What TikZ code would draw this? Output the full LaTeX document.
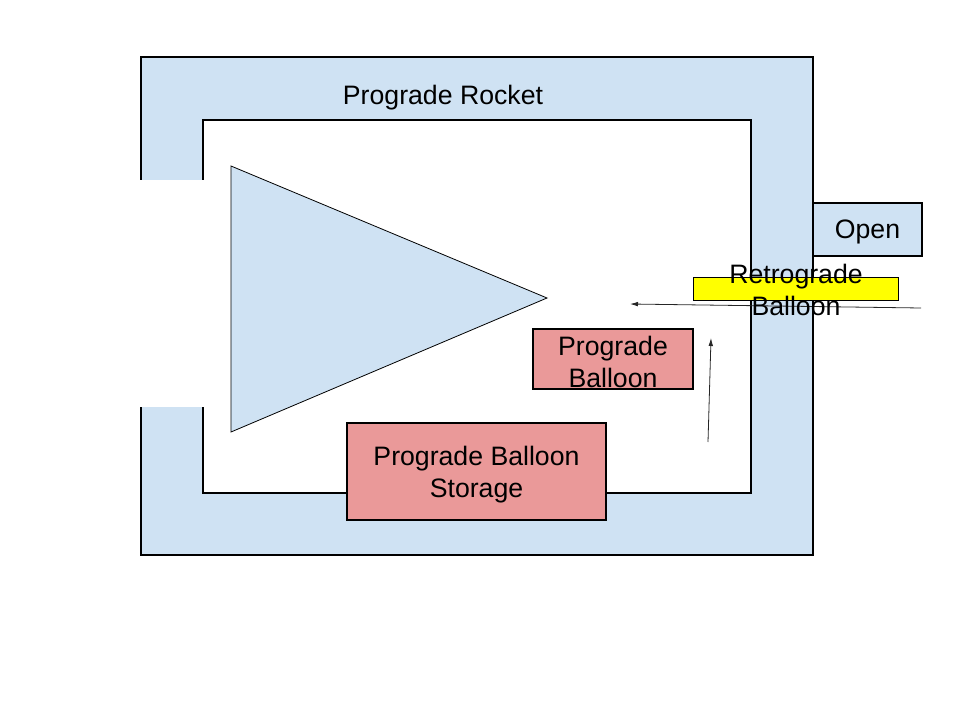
\documentclass[tikz,border=0pt]{standalone}
\usepackage{fontspec}
\setmainfont{Liberation Sans}
\usepackage{xcolor}
\usetikzlibrary{arrows.meta}

\definecolor{rocketblue}{HTML}{CFE2F3}
\definecolor{balloonred}{HTML}{EA9999}
\definecolor{retroyellow}{HTML}{FFFF00}

\begin{document}
\begin{tikzpicture}[x=0.75pt,y=-0.75pt,
    txt/.style={font=\fontsize{20}{24}\selectfont, align=center, inner sep=0pt},
    box/.style={draw, line width=0.8pt, inner sep=0pt},
    intxt/.style={label={[txt, yshift=-2.2pt]center:{#1}}},
    flow/.style={-{Latex[length=6pt,width=3.5pt]}, line width=0.6pt, black!85}]

    \useasboundingbox (0,0) rectangle (960,720);

    % Корпус ракеты: внешний и внутренний контур
    \coordinate (A) at (141,180);
    \coordinate (B) at (141,57);
    \coordinate (C) at (813,57);
    \coordinate (D) at (813,555);
    \coordinate (E) at (141,555);
    \coordinate (F) at (141,407);
    \coordinate (G) at (203,407);
    \coordinate (H) at (203,493);
    \coordinate (K) at (751,493);
    \coordinate (L) at (751,120);
    \coordinate (M) at (203,120);
    \coordinate (N) at (203,180);
    \fill[rocketblue] (A) -- (B) -- (C) -- (D) -- (E) -- (F) -- (G) -- (H) -- (K) -- (L) -- (M) -- (N) -- cycle;
    \draw[line width=0.8pt] (A) -- (B) -- (C) -- (D) -- (E) -- (F);
    \draw[line width=0.8pt] (G) -- (H) -- (K) -- (L) -- (M) -- (N);
    \node[txt] (rocket) at (443,97.5) {Prograde Rocket};

    % Сопло (треугольник)
    \coordinate (T1) at (231,166);
    \coordinate (T2) at (231,432);
    \coordinate (T3) at (547,298);
    \draw[fill=rocketblue, line width=0.6pt] (T1) -- (T3) -- (T2) -- cycle;

    % Люк
    \node[box, fill=rocketblue, minimum width=81.75pt, minimum height=39.75pt, intxt=Open] (open) at (867.5,229.5) {};

    % Стрелки
    \coordinate (in) at (921,308);
    \coordinate (inend) at (630,304);
    \draw[flow] (in) -- (inend);
    \coordinate (up) at (708,442);
    \coordinate (upend) at (711,338);
    \draw[flow] (up) -- (upend);

    % Ретроградный баллон
    \node[draw, fill=retroyellow, line width=0.6pt, minimum width=153.75pt, minimum height=17.25pt, inner sep=0pt] (retrobox) at (795.5,288.5) {};
    \node[txt] (retro) at (796,290) {Retrograde\\Balloon};

    % Проградный баллон и хранилище
    \node[box, fill=balloonred, minimum width=120pt, minimum height=45pt, intxt={Prograde\\Balloon}] (balloon) at (613,359) {};
    \node[box, fill=balloonred, minimum width=194.25pt, minimum height=72.75pt, intxt={Prograde Balloon\\Storage}] (storage) at (476.5,471.5) {};

\end{tikzpicture}
\end{document}
